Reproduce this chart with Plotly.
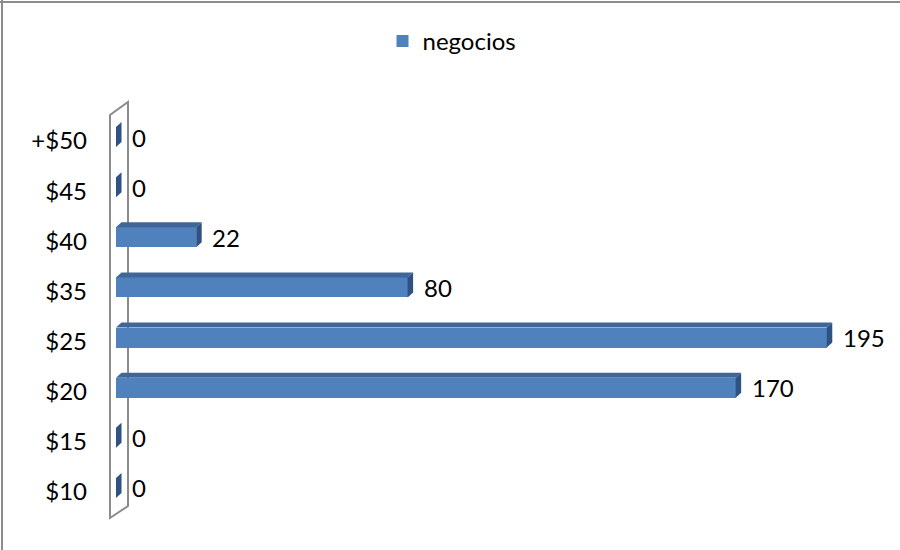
import plotly.graph_objects as go

categories = ["$10", "$15", "$20", "$25", "$35", "$40", "$45", "+$50"]
values = [0, 0, 170, 195, 80, 22, 0, 0]
series_name = "negocios"

W, H = 900, 550
L, R, T, B = 116, 55, 112, 37
XMAX = 200
plot_w = W - L - R
plot_h = H - T - B
n = len(categories)
ypos = list(range(n))

FRONT = "#4F81BD"
TOP = "#3F6697"
SIDE = "#2F5283"
FONT = "Lato"
FS = 24

half = 0.2
dx = 5.5 * XMAX / plot_w
dy = 5 * n / plot_h

fig = go.Figure()
fig.add_trace(go.Bar(
    x=values, y=ypos, orientation="h", width=2 * half,
    marker=dict(color=FRONT, line=dict(width=0)),
    name=series_name, showlegend=True,
))

shapes = []
def px(xp):
    return (xp - L) / plot_w
def py(yp):
    return (H - B - yp) / plot_h

wall = [(110, 518), (110, 115), (128, 102), (128, 506)]
path = "M " + " L ".join(f"{px(a)},{py(b)}" for a, b in wall) + " Z"
shapes.append(dict(type="path", xref="paper", yref="paper", path=path,
                   line=dict(color="#8C8C8C", width=2), fillcolor="rgba(0,0,0,0)",
                   layer="below"))

for v, yi in zip(values, ypos):
    y0, y1 = yi - half, yi + half
    top = f"M 0,{y1} L {v},{y1} L {v+dx},{y1+dy} L {dx},{y1+dy} Z"
    side = f"M {v},{y0} L {v},{y1} L {v+dx},{y1+dy} L {v+dx},{y0+dy} Z"
    if v > 0:
        shapes.append(dict(type="path", xref="x", yref="y", path=top,
                           fillcolor=TOP, line=dict(width=0)))
    shapes.append(dict(type="path", xref="x", yref="y", path=side,
                       fillcolor=SIDE, line=dict(width=0)))

annotations = []
for v, yi in zip(values, ypos):
    annotations.append(dict(x=v, y=yi, xref="x", yref="y", text=str(v),
                            showarrow=False, xanchor="left", yanchor="middle",
                            xshift=14, yshift=0,
                            font=dict(family=FONT, size=FS, color="#000000")))

shapes.append(dict(type="line", xref="paper", yref="paper",
                   x0=px(0), x1=px(W), y0=py(2), y1=py(2),
                   line=dict(color="#8C8C8C", width=2)))
shapes.append(dict(type="line", xref="paper", yref="paper",
                   x0=px(2), x1=px(2), y0=py(0), y1=py(H),
                   line=dict(color="#8C8C8C", width=2)))

fig.update_layout(
    width=W, height=H,
    margin=dict(l=L, r=R, t=T, b=B),
    paper_bgcolor="white", plot_bgcolor="white",
    font=dict(family=FONT, size=FS, color="#000000"),
    xaxis=dict(range=[0, XMAX], visible=False, showgrid=False, zeroline=False),
    yaxis=dict(range=[-0.5, n - 0.5], tickvals=ypos, ticktext=categories,
               showgrid=False, zeroline=False, showline=False, ticks="",
               ticklabelstandoff=28, ticklabelshift=4,
               tickfont=dict(family=FONT, size=FS, color="#000000")),
    showlegend=True,
    legend=dict(orientation="h", xref="container", yref="container",
                x=0.425, y=1 - 19 / H, xanchor="left", yanchor="top",
                font=dict(family=FONT, size=FS, color="#000000"),
                bgcolor="rgba(0,0,0,0)"),
    shapes=shapes, annotations=annotations,
    bargap=0,
)

fig.write_html("out.html", config={"displayModeBar": False},
               post_script="document.body.style.margin='0';")
